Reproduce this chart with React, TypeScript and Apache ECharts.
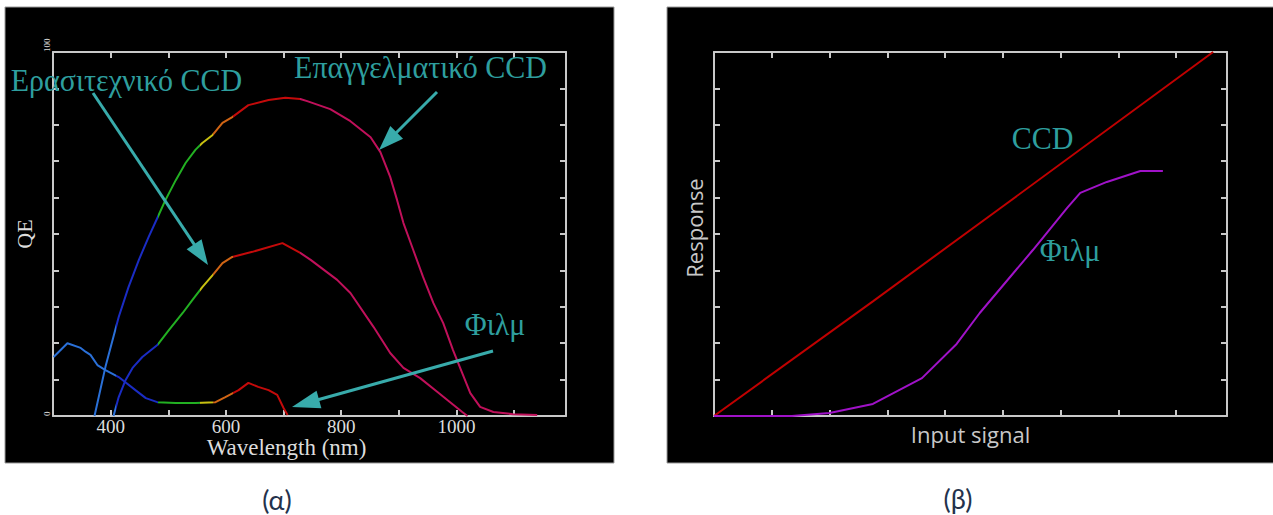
import React, { useEffect, useRef } from "react";
import * as echarts from "echarts";

// ---------- Panel (α): quantum efficiency vs wavelength ----------
const wavelengthLabels = [400, 600, 800, 1000];
const qeLabels = [0, 100];

const proCCD: [number, number][] = [
  [372, 0], [391, 13.5], [414, 27.2], [431, 35.4], [449, 42.9], [466, 49.2],
  [481, 54.4], [495, 59.3], [513, 64.8], [530, 69.5], [547, 73.1], [559, 75.0],
  [577, 77.2], [594, 80.5], [611, 82.1], [639, 85.4], [674, 86.8], [703, 87.4],
  [729, 87.1], [741, 86.5], [781, 84.3], [816, 81.0], [851, 76.6], [868, 72.5],
  [885, 65.7], [897, 59.3], [908, 53.0], [925, 45.6], [942, 38.2], [960, 31.0],
  [977, 25.5], [994, 18.1], [1010, 11.8], [1024, 6.3], [1041, 2.5], [1064, 1.1],
  [1098, 0.5], [1140, 0.3],
];

const amateurCCD: [number, number][] = [
  [405, 0], [414, 5.2], [426, 9.9], [438, 13.2], [455, 16.2], [481, 19.5],
  [501, 23.6], [525, 28.3], [542, 31.9], [559, 35.4], [577, 38.7], [594, 42.0],
  [611, 43.7], [646, 45.1], [698, 47.5], [729, 44.8], [747, 42.9], [793, 37.4],
  [816, 33.8], [856, 24.5], [885, 17.3], [908, 13.2], [937, 10.4], [967, 6.6],
  [989, 3.8], [1010, 1.1], [1019, 0],
];

const filmQE: [number, number][] = [
  [301, 16.2], [325, 20.0], [348, 18.7], [357, 17.6], [365, 16.8], [377, 14.0],
  [391, 12.6], [414, 10.7], [443, 7.1], [461, 4.9], [481, 3.8], [513, 3.6],
  [547, 3.6], [582, 3.8], [599, 5.2], [622, 7.1], [639, 9.1], [656, 8.0],
  [674, 7.1], [689, 5.8], [700, 2.2], [707, 0.3],
];

// ---------- Panel (β): response vs input signal ----------
const ccdResponse: [number, number][] = [
  [0, 0], [2.75, 3.15], [4.99, 5.75], [8.64, 10],
];

const filmResponse: [number, number][] = [
  [0, 0], [1.35, 0], [2.0, 0.08], [2.75, 0.33], [3.6, 1.04], [4.2, 1.98],
  [4.6, 2.83], [5.52, 4.56], [6.11, 5.71], [6.34, 6.13], [6.8, 6.43],
  [7.38, 6.73], [7.77, 6.73],
];

// ---------- Texts ----------
const leftXName = "Wavelength (nm)";
const leftYName = "QE";
const rightXName = "Input signal";
const rightYName = "Response";
const amateurLabel = "Ερασιτεχνικό CCD";
const proLabel = "Επαγγελματικό CCD";
const filmLabel = "Φιλμ";
const ccdLabel = "CCD";
const captionA = "(α)";
const captionB = "(β)";

const SERIF = '"Liberation Serif", "DejaVu Serif", serif';
const SANS = '"Open Sans", "Noto Sans", sans-serif';
const AXIS = "#c8c8c8";
const TEAL = "#2e9e9e";
const ARROW = "#38abab";

function frameAxis(extra: any) {
  return {
    type: "value",
    axisLine: { show: true, onZero: false, lineStyle: { color: AXIS, width: 2 } },
    axisTick: { show: true, inside: true, length: 6, lineStyle: { color: AXIS, width: 2 } },
    axisLabel: { show: false },
    splitLine: { show: false },
    nameMoveOverlap: false,
    ...extra,
  };
}

function arrow(x1: number, y1: number, tx: number, ty: number, len: number, half: number) {
  const dx = tx - x1;
  const dy = ty - y1;
  const d = Math.sqrt(dx * dx + dy * dy);
  const ux = dx / d;
  const uy = dy / d;
  const bx = tx - ux * len;
  const by = ty - uy * len;
  const px = -uy * half;
  const py = ux * half;
  return [
    {
      type: "line",
      z: 50,
      shape: { x1, y1, x2: bx + ux * 2, y2: by + uy * 2 },
      style: { stroke: ARROW, lineWidth: 3 },
    },
    {
      type: "polygon",
      z: 50,
      shape: { points: [[tx, ty], [bx + px, by + py], [bx - px, by - py]] },
      style: { fill: ARROW },
    },
  ];
}

function label(text: string, x: number, y: number, size: number, sy: number) {
  return {
    type: "text",
    z: 60,
    x,
    y,
    scaleY: sy,
    style: {
      text,
      fill: TEAL,
      fontFamily: SERIF,
      fontSize: size,
      align: "center",
      verticalAlign: "middle",
    },
  };
}

function caption(text: string, x: number, y: number) {
  return {
    type: "text",
    z: 60,
    x,
    y,
    style: {
      text,
      fill: "#24324c",
      fontFamily: '"Lato", "Open Sans", sans-serif',
      fontSize: 27,
      align: "center",
      verticalAlign: "middle",
    },
  };
}

export default function App() {
  const ref = useRef<HTMLDivElement>(null);

  useEffect(() => {
    if (!ref.current) return;
    const chart = echarts.init(ref.current, undefined, { renderer: "svg" });

    const option: any = {
      animation: false,
      backgroundColor: "#ffffff",
      grid: [
        { left: 53, top: 52, width: 513, height: 364 },
        { left: 714, top: 52, width: 513, height: 364 },
      ],
      xAxis: [
        frameAxis({
          gridIndex: 0,
          position: "bottom",
          min: 300,
          max: 1190,
          interval: 100,
          axisLabel: {
            show: true,
            color: "#dcdcdc",
            fontFamily: SERIF,
            fontSize: 19,
            margin: 1,
            formatter: (v: number) => (wavelengthLabels.includes(v) ? String(v) : ""),
          },
          name: leftXName,
          nameLocation: "middle",
          nameGap: 20,
          nameTextStyle: {
            color: "#dcdcdc",
            fontFamily: SERIF,
            fontSize: 23,
            padding: [0, 46, 0, 0],
          },
        }),
        frameAxis({ gridIndex: 0, position: "top", min: 300, max: 1190, interval: 100 }),
        frameAxis({
          gridIndex: 1,
          position: "bottom",
          min: 0,
          max: 8.88,
          interval: 1,
          name: rightXName,
          nameLocation: "middle",
          nameGap: 7,
          nameTextStyle: { color: "#c8c8c8", fontFamily: SANS, fontSize: 22 },
        }),
        frameAxis({ gridIndex: 1, position: "top", min: 0, max: 8.88, interval: 1 }),
      ],
      yAxis: [
        frameAxis({
          gridIndex: 0,
          position: "left",
          min: 0,
          max: 100,
          interval: 10,
          axisLabel: {
            show: true,
            rotate: 90,
            color: "#dcdcdc",
            fontFamily: SERIF,
            fontSize: 9,
            margin: 6,
            align: "left",
            verticalAlign: "middle",
            formatter: (v: number) => (qeLabels.includes(v) ? String(v) : ""),
          },
          name: leftYName,
          nameLocation: "middle",
          nameRotate: 90,
          nameGap: 18,
          nameTextStyle: { color: "#dcdcdc", fontFamily: SERIF, fontSize: 22 },
        }),
        frameAxis({ gridIndex: 0, position: "right", min: 0, max: 100, interval: 10 }),
        frameAxis({
          gridIndex: 1,
          position: "left",
          min: 0,
          max: 10,
          interval: 1,
          name: rightYName,
          nameLocation: "middle",
          nameRotate: 90,
          nameGap: 9,
          nameTextStyle: {
            color: "#c8c8c8",
            fontFamily: SANS,
            fontSize: 22,
            padding: [0, 0, 0, 12],
          },
        }),
        frameAxis({ gridIndex: 1, position: "right", min: 0, max: 10, interval: 1 }),
      ],
      visualMap: {
        type: "piecewise",
        show: false,
        dimension: 0,
        seriesIndex: [0, 1, 2],
        pieces: [
          { lt: 410, color: "#2a70d8" },
          { gte: 410, lt: 482, color: "#1a2cc4" },
          { gte: 482, lt: 555, color: "#22b022" },
          { gte: 555, lt: 578, color: "#c8c010" },
          { gte: 578, lt: 612, color: "#d06414" },
          { gte: 612, lt: 728, color: "#c40a0a" },
          { gte: 728, color: "#c0105a" },
        ],
      },
      series: [
        {
          name: proLabel,
          type: "line",
          xAxisIndex: 0,
          yAxisIndex: 0,
          data: proCCD,
          showSymbol: false,
          symbol: "none",
          lineStyle: { width: 2 },
        },
        {
          name: amateurLabel,
          type: "line",
          xAxisIndex: 0,
          yAxisIndex: 0,
          data: amateurCCD,
          showSymbol: false,
          symbol: "none",
          lineStyle: { width: 2 },
        },
        {
          name: filmLabel,
          type: "line",
          xAxisIndex: 0,
          yAxisIndex: 0,
          data: filmQE,
          showSymbol: false,
          symbol: "none",
          lineStyle: { width: 2 },
        },
        {
          name: ccdLabel,
          type: "line",
          xAxisIndex: 2,
          yAxisIndex: 2,
          data: ccdResponse,
          showSymbol: false,
          symbol: "none",
          lineStyle: { width: 2, color: "#c00000" },
          itemStyle: { color: "#c00000" },
        },
        {
          name: filmLabel + " ",
          type: "line",
          xAxisIndex: 2,
          yAxisIndex: 2,
          data: filmResponse,
          showSymbol: false,
          symbol: "none",
          lineStyle: { width: 2, color: "#a012c8" },
          itemStyle: { color: "#a012c8" },
        },
      ],
      graphic: {
        elements: [
          {
            type: "rect",
            z: -10,
            shape: { x: 5, y: 7, width: 609, height: 456 },
            style: { fill: "#000000", stroke: "#9a9a9a", lineWidth: 1 },
          },
          {
            type: "rect",
            z: -10,
            shape: { x: 667, y: 7, width: 610, height: 456 },
            style: { fill: "#000000", stroke: "#9a9a9a", lineWidth: 1 },
          },
          ...arrow(93, 93, 208, 265, 25, 9),
          ...arrow(437, 92, 379, 150, 25, 9),
          ...arrow(493, 351, 292, 407, 28, 9),
          label(amateurLabel, 126.5, 81, 30, 1.05),
          label(proLabel, 420.5, 68, 30, 1.03),
          label(filmLabel, 495, 325, 30, 1.03),
          label(ccdLabel, 1042.5, 138, 30, 1.08),
          label(filmLabel, 1070, 251, 30, 1.03),
          caption(captionA, 277, 499),
          caption(captionB, 958, 498),
        ],
      },
    };

    chart.setOption(option);
    return () => chart.dispose();
  }, []);

  return (
    <div
      ref={ref}
      style={{ position: "fixed", left: 0, top: 0, width: 1273, height: 515 }}
    />
  );
}
